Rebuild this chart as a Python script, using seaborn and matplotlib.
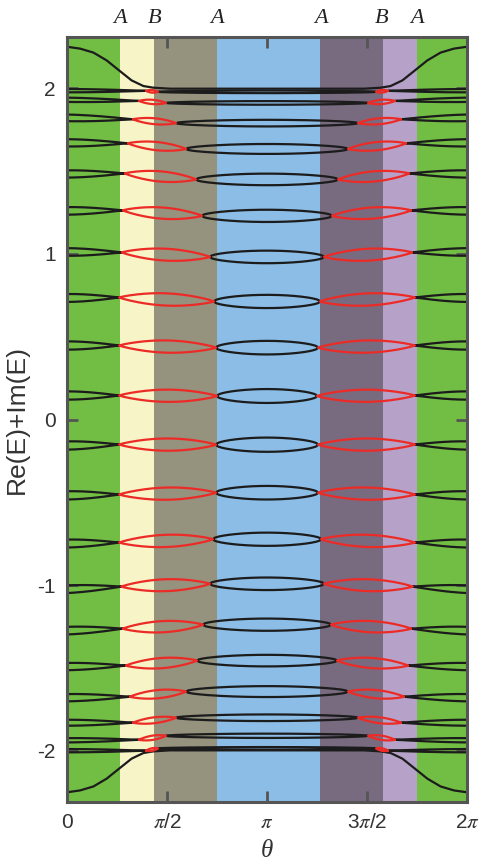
import numpy as np
import pandas as pd
import matplotlib
matplotlib.use("Agg")
import matplotlib.pyplot as plt
import seaborn as sns

# background bands along theta (in units of pi)
band_edges = [0.0, 0.265, 0.435, 0.75, 1.265, 1.58, 1.75, 2.0]
band_colors = ["#72BE44", "#F7F4C8", "#95927E", "#8BBDE6", "#786B80", "#B6A2C8", "#72BE44"]

# region labels above the frame
top_labels = ["A", "B", "A", "A", "B", "A"]
top_label_pos = [0.265, 0.44, 0.75, 1.27, 1.575, 1.75]

# one entry per level: edge value at theta=0, first node (theta, E), second node (theta, E)
e_edge = [1.986, 1.931, 1.822, 1.671, 1.483, 1.260, 1.012, 0.734, 0.447, 0.145,
          -0.157, -0.458, -0.749, -1.025, -1.275, -1.492, -1.680, -1.831, -1.937, -2.000]
node1_t = [0.395, 0.360, 0.330, 0.305, 0.290, 0.280, 0.275, 0.262, 0.262, 0.262,
           0.262, 0.262, 0.262, 0.273, 0.280, 0.295, 0.315, 0.330, 0.360, 0.395]
node1_e = [1.985, 1.924, 1.813, 1.668, 1.486, 1.263, 1.009, 0.737, 0.447, 0.145,
           -0.151, -0.453, -0.743, -1.009, -1.263, -1.486, -1.674, -1.831, -1.934, -2.000]
node2_t = [0.455, 0.495, 0.545, 0.595, 0.645, 0.675, 0.715, 0.735, 0.745, 0.750,
           0.745, 0.745, 0.730, 0.715, 0.680, 0.650, 0.595, 0.545, 0.495, 0.455]
node2_e = [1.979, 1.912, 1.790, 1.634, 1.450, 1.230, 0.982, 0.713, 0.434, 0.142,
           -0.152, -0.442, -0.723, -0.992, -1.239, -1.456, -1.643, -1.801, -1.910, -1.986]
# half widths of the loops: black edge loop, red loop, black middle loop
half_edge = [0.010, 0.013, 0.020, 0.022, 0.022, 0.023, 0.023, 0.024, 0.025, 0.025,
             0.025, 0.025, 0.024, 0.023, 0.023, 0.022, 0.022, 0.018, 0.013, 0.010]
half_red = [0.008, 0.013, 0.018, 0.025, 0.031, 0.034, 0.036, 0.037, 0.037, 0.037,
            0.037, 0.037, 0.037, 0.036, 0.034, 0.031, 0.025, 0.018, 0.013, 0.008]
half_mid = [0.008, 0.011, 0.020, 0.030, 0.035, 0.037, 0.038, 0.040, 0.041, 0.042,
            0.043, 0.041, 0.040, 0.038, 0.037, 0.035, 0.033, 0.020, 0.013, 0.008]

# the edge curve that leaves the band at theta=0
s_curve_t = [0.0, 0.007, 0.065, 0.132, 0.198, 0.265, 0.323, 0.382, 0.432, 0.515, 1.0]
s_curve_e = [2.252, 2.250, 2.240, 2.216, 2.169, 2.104, 2.048, 2.014, 2.004, 1.998, 1.998]

rows = []


def add(curve, kind, th, ee):
    for a, b in zip(th, ee):
        rows.append((curve, kind, a * np.pi, b))


s = np.linspace(0, 1, 80)
cid = 0
for i in range(len(e_edge)):
    t1, t2 = node1_t[i], node2_t[i]
    # black loop around theta = 0 (and its mirror at 2 pi)
    th = t1 * s
    c = e_edge[i] + (node1_e[i] - e_edge[i]) * s
    b = half_edge[i] * np.cos(np.pi / 2 * s)
    th_l = np.concatenate([th, th[::-1]])
    e_l = np.concatenate([c + b, (c - b)[::-1]])
    add(cid, "black", th_l, e_l); cid += 1
    add(cid, "black", 2 - th_l, e_l); cid += 1
    # red loops
    th = t1 + (t2 - t1) * s
    c = node1_e[i] + (node2_e[i] - node1_e[i]) * s
    b = half_red[i] * np.sin(np.pi * s) ** 0.8
    th_l = np.concatenate([th, th[::-1]])
    e_l = np.concatenate([c + b, (c - b)[::-1]])
    add(cid, "red", th_l, e_l); cid += 1
    add(cid, "red", 2 - th_l, e_l); cid += 1
    # black loop in the middle
    th = t2 + (2 - 2 * t2) * s
    b = half_mid[i] * np.sqrt(np.sin(np.pi * s))
    th_l = np.concatenate([th, th[::-1]])
    e_l = np.concatenate([node2_e[i] + b, (node2_e[i] - b)[::-1]])
    add(cid, "black", th_l, e_l); cid += 1

full_t = s_curve_t + [2 - t for t in s_curve_t[::-1]]
full_e = s_curve_e + s_curve_e[::-1]
add(cid, "black", full_t, full_e); cid += 1
add(cid, "black", full_t, [-v for v in full_e]); cid += 1

df = pd.DataFrame(rows, columns=["curve", "kind", "theta", "E"])

sns.set_style("ticks")
plt.rcParams["font.family"] = ["Liberation Sans", "DejaVu Sans"]
plt.rcParams["mathtext.fontset"] = "stix"

fig = plt.figure(figsize=(4.81, 8.65), dpi=100)
ax = fig.add_axes([0.1393, 0.0728, 0.8316, 0.8844])

for k in range(len(band_colors)):
    ax.axvspan(band_edges[k] * np.pi, band_edges[k + 1] * np.pi, color=band_colors[k], lw=0, zorder=0)

sns.lineplot(data=df, x="theta", y="E", units="curve", estimator=None, sort=False,
             hue="kind", hue_order=["black", "red"],
             palette={"black": "#1c1c1c", "red": "#EC2B27"},
             lw=1.6, legend=False, ax=ax)

ax.set_xlim(0, 2 * np.pi)
ax.set_ylim(-2.31, 2.31)
ax.set_xticks([0, np.pi / 2, np.pi, 1.5 * np.pi, 2 * np.pi])
ax.set_xticklabels(["0", r"$\pi$/2", r"$\pi$", r"3$\pi$/2", r"2$\pi$"])
ax.set_yticks([-2, -1, 0, 1, 2])
ax.set_yticklabels(["-2", "-1", "0", "1", "2"])
ax.tick_params(direction="in", top=True, right=True, length=8, width=2,
               color="#555555", labelsize=15, labelcolor="#333333", pad=8)
for sp in ax.spines.values():
    sp.set_color("#555555")
    sp.set_linewidth(2.2)
    sp.set_zorder(5)

ax.set_xlabel("θ", family="Liberation Serif", style="italic", fontsize=18, color="#333333", labelpad=6)
ax.set_ylabel("Re(E)+Im(E)", fontsize=19, color="#333333", labelpad=6)

for lab, pos in zip(top_labels, top_label_pos):
    ax.text(pos * np.pi, 1.012, lab, transform=ax.get_xaxis_transform(),
            ha="center", va="bottom", family="Liberation Serif", style="italic",
            fontsize=16, color="#222222")

fig.savefig("out.png", dpi=100)
